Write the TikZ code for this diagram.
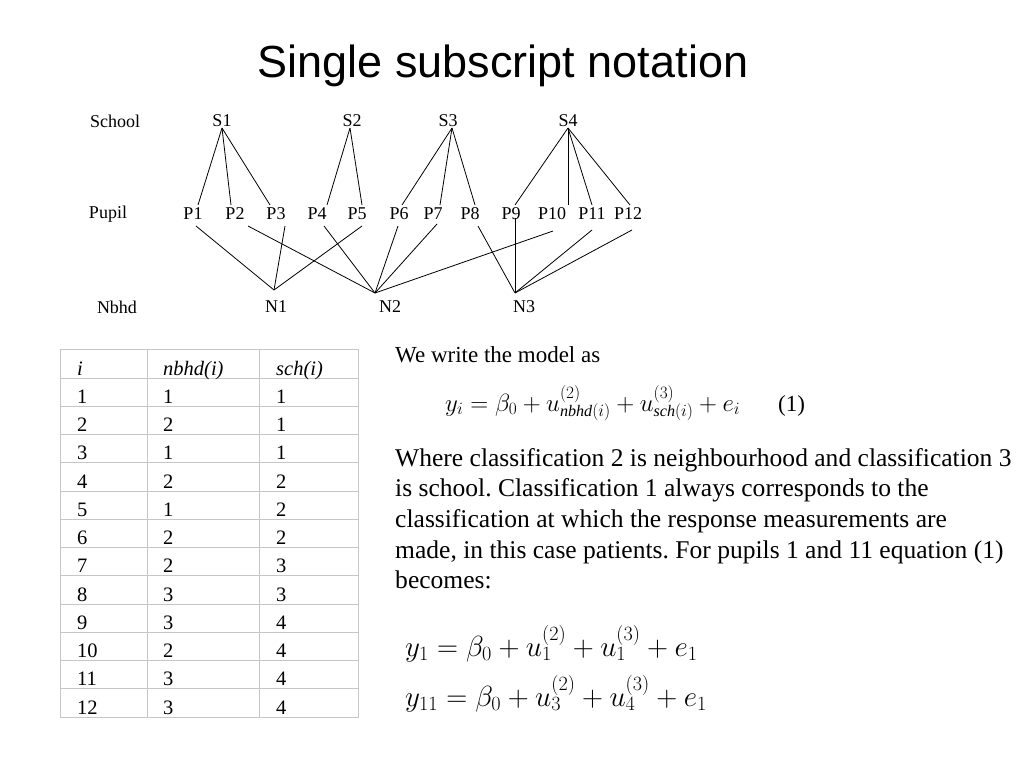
\documentclass[tikz,border=0pt]{standalone}
\usepackage{fontspec}
\setmainfont{Liberation Serif}
\newfontfamily\titlefont{Liberation Sans}
\frenchspacing
\begin{document}
\begin{tikzpicture}[x=1pt,y=-1pt,
  lab/.style={inner sep=0pt,font=\fontsize{18}{20}\selectfont},
  tab/.style={inner sep=0pt,anchor=base west,font=\fontsize{20.5}{22}\selectfont},
  grid/.style={draw=gray!45,line width=0.8pt},
  link/.style={draw=black,line width=0.8pt}]
\useasboundingbox (0,0) rectangle (1024,768);
\node[inner sep=0pt,font=\titlefont\fontsize{45}{50}\selectfont] (title) at (503,66) {Single subscript notation};
% labels
\node[lab] (school) at (115,121) {School};
\node[lab] (pupil) at (108,214) {Pupil};
\node[lab] (nbhd) at (117,307) {Nbhd};
\foreach \n/\x in {1/222,2/352,3/448,4/568} \node[lab] (S\n) at (\x,121) {S\n};
\foreach \n/\x in {1/193,2/235,3/276,4/317,5/357,6/399,7/433,8/470,9/511,10/552,11/592,12/628} \node[lab] (P\n) at (\x,214) {P\n};
\foreach \n/\x in {1/276,2/390,3/524} \node[lab] (N\n) at (\x,307) {N\n};
% line end coordinates
\coordinate (s1) at (222,128); \coordinate (s2) at (350,128);
\coordinate (s3) at (452,128); \coordinate (s4) at (568,128);
\foreach \n/\x in {1/198,2/231,3/270,4/327,5/362,6/402,7/440,8/475,9/515,10/568,11/592,12/630} \coordinate (pt\n) at (\x,205);
\coordinate (pb1) at (196,226); \coordinate (pb2) at (248,226); \coordinate (pb3) at (285,226);
\coordinate (pb4) at (324,226); \coordinate (pb5) at (362,226); \coordinate (pb6) at (398,226);
\coordinate (pb7) at (437,224); \coordinate (pb8) at (478,226); \coordinate (pb9) at (515,218);
\coordinate (pb10) at (553,231); \coordinate (pb11) at (592,230); \coordinate (pb12) at (632,230);
\coordinate (n1) at (274,290); \coordinate (n2) at (375,293); \coordinate (n3) at (515,293);
\foreach \p in {1,2,3} \draw[link] (s1) -- (pt\p);
\foreach \p in {4,5} \draw[link] (s2) -- (pt\p);
\foreach \p in {6,7,8} \draw[link] (s3) -- (pt\p);
\foreach \p in {9,10,11,12} \draw[link] (s4) -- (pt\p);
\foreach \p in {1,3,5} \draw[link] (pb\p) -- (n1);
\foreach \p in {2,4,6,7,10} \draw[link] (pb\p) -- (n2);
\foreach \p in {8,9,11,12} \draw[link] (pb\p) -- (n3);
% table
\draw[grid] (60,349) rectangle (358,717);
\draw[grid] (147,349) -- (147,717);
\draw[grid] (259,349) -- (259,717);
\foreach \k in {0,...,11} \draw[grid] (60,{378+28.25*\k}) -- (358,{378+28.25*\k});
\node[tab] (h1) at (77,375) {\itshape i};
\node[tab] (h2) at (163,375) {\itshape nbhd(i)};
\node[tab] (h3) at (276,375) {\itshape sch(i)};
\foreach \i/\a/\b [count=\k from 1] in {1/1/1,2/2/1,3/1/1,4/2/2,5/1/2,6/2/2,7/2/3,8/3/3,9/3/4,10/2/4,11/3/4,12/3/4}{
  \node[tab] (r\k a) at (77,{375+28.25*\k}) {\i};
  \node[tab] (r\k b) at (163,{375+28.25*\k}) {\a};
  \node[tab] (r\k c) at (276,{375+28.25*\k}) {\b};
}
% text
\node[inner sep=0pt,anchor=base west,font=\fontsize{23}{27}\selectfont] (we) at (395,362) {We write the model as};
\node[inner sep=0pt,anchor=base west,font=\fontsize{23}{26}\selectfont] (eq1) at (445,411) {$y_i=\beta_0+u^{(2)}_{\mathit{nbhd}(i)}+u^{(3)}_{\mathit{sch}(i)}+e_i$};
\node[inner sep=0pt,anchor=base west,font=\fontsize{23}{27}\selectfont] (eqn) at (778,411) {(1)};
\node[inner sep=0pt,anchor=north west,align=left,scale=1.135,font=\fontsize{22.5}{27}\selectfont] (para) at (395,448) {Where classification 2 is neighbourhood and classification 3\\is school. Classification 1 always corresponds to the\\classification at which the response measurements are\\made, in this case patients. For pupils 1 and 11 equation (1)\\becomes:};
\node[inner sep=0pt,anchor=base west,scale=1.17,font=\fontsize{24}{28}\selectfont] (eq2) at (405,656) {$y_1=\beta_0+u^{(2)}_1+u^{(3)}_1+e_1$};
\node[inner sep=0pt,anchor=base west,scale=1.17,font=\fontsize{24}{28}\selectfont] (eq3) at (405,706) {$y_{11}=\beta_0+u^{(2)}_3+u^{(3)}_4+e_1$};
\end{tikzpicture}
\end{document}
